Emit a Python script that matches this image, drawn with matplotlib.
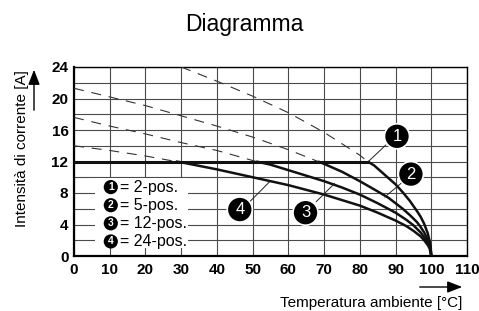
import matplotlib
matplotlib.use('Agg')
import matplotlib.pyplot as plt
from matplotlib.patches import Rectangle, FancyArrowPatch

plt.rcParams['font.family'] = ['Liberation Sans', 'DejaVu Sans']

# curve 1 (2-pos.)
t1_dash = [30, 40, 50, 60, 70, 80, 82.2]
i1_dash = [24.0, 22.2, 20.3, 18.2, 15.7, 12.8, 12.0]
t1 = [82.2, 84, 86, 88, 90, 92, 94, 96, 97, 98, 99, 99.5, 99.8, 100]
i1 = [12.0, 11.5, 10.7, 9.9, 9.1, 8.1, 7.0, 5.7, 5.0, 4.1, 2.9, 2.0, 1.3, 0.0]

# curve 2 (5-pos.)
t2_dash = [0, 10, 20, 30, 40, 50, 60, 68.3]
i2_dash = [21.3, 20.2, 19.1, 17.8, 16.5, 15.1, 13.5, 12.0]
t2 = [68.3, 70, 75, 80, 85, 88, 90, 92, 94, 96, 97, 98, 99, 99.5, 99.8, 100]
i2 = [12.0, 11.7, 10.7, 9.5, 8.2, 7.4, 6.7, 6.0, 5.2, 4.3, 3.7, 3.0, 2.1, 1.5, 1.0, 0.0]

# curve 3 (12-pos.)
t3_dash = [0, 10, 20, 30, 40, 51]
i3_dash = [17.6, 16.5, 15.5, 14.4, 13.4, 12.0]
t3 = [51, 55, 60, 65, 70, 75, 80, 85, 90, 93, 95, 97, 98, 99, 99.5, 99.8, 100]
i3 = [12.0, 11.6, 10.9, 10.2, 9.5, 8.7, 7.8, 6.7, 5.5, 4.6, 3.9, 3.0, 2.4, 1.7, 1.2, 0.8, 0.0]

# curve 4 (24-pos.)
t4_dash = [0, 10, 20, 28.5]
i4_dash = [14.0, 13.4, 12.7, 12.0]
t4 = [28.5, 30, 40, 50, 60, 70, 80, 85, 90, 93, 95, 97, 98, 99, 99.5, 100]
i4 = [12.0, 11.9, 11.0, 10.0, 9.0, 7.8, 6.4, 5.5, 4.5, 3.8, 3.2, 2.5, 2.0, 1.4, 1.0, 0.0]

# common limit
t_lim = [0, 82.2]
i_lim = [12, 12]

labels = ['2-pos.', '5-pos.', '12-pos.', '24-pos.']
numbers = ['1', '2', '3', '4']
# callout circle positions and the leader line ends
call_pos = [(90.4, 15.2), (94.3, 10.4), (64.8, 5.5), (46.4, 5.9)]
call_start = [(87.3, 14.1), (92.0, 9.4), (67.8, 6.9), (49.2, 6.9)]
call_end = [(82.4, 12.0), (87.0, 7.5), (72.9, 9.2), (54.7, 9.4)]

fig = plt.figure(figsize=(4.79, 3.11), dpi=100)
ax = fig.add_axes([74 / 479, 55 / 311, 393 / 479, 189 / 311])

ax.set_xlim(0, 110)
ax.set_ylim(0, 24)
ax.set_xticks(range(0, 111, 10))
ax.set_yticks(range(0, 25, 4))
ax.set_yticks(range(0, 25, 2), minor=True)
ax.grid(True, which='both', color='#4a4a4a', lw=0.8)
ax.set_axisbelow(True)
ax.tick_params(which='both', length=0)
ax.tick_params(axis='x', pad=5)
ax.tick_params(axis='y', pad=4)
for lab in ax.get_xticklabels() + ax.get_yticklabels():
    lab.set_fontweight('bold')
    lab.set_fontsize(11)
for side in ['left', 'bottom']:
    ax.spines[side].set_linewidth(1.6)
for side in ['top', 'right']:
    ax.spines[side].set_linewidth(1.0)

dash = dict(color='#333333', lw=0.8, dashes=(9, 7))
solid = dict(color='#111111', lw=1.8, solid_capstyle='butt')
for td, idd, ts, iss in [(t1_dash, i1_dash, t1, i1), (t2_dash, i2_dash, t2, i2),
                         (t3_dash, i3_dash, t3, i3), (t4_dash, i4_dash, t4, i4)]:
    ax.plot(td, idd, **dash, zorder=3)
    ax.plot(ts, iss, **solid, zorder=4)
ax.plot(t_lim, i_lim, color='#111111', lw=2.2, zorder=4)

# legend block
ax.add_patch(Rectangle((5.8, 1.0), 26.0, 8.9, facecolor='white', edgecolor='none', zorder=2))
for k, (num, lab) in enumerate(zip(numbers, labels)):
    y = 8.75 - k * 2.3
    ax.text(10.3, y, num, ha='center', va='center', color='white', fontsize=7.5, fontweight='bold',
            bbox=dict(boxstyle='circle,pad=0.2', fc='black', ec='none'), zorder=5)
    ax.text(13.0, y, '= ' + lab, ha='left', va='center', fontsize=11.5, zorder=5)

# numbered callouts
for num, p, s, e in zip(numbers, call_pos, call_start, call_end):
    ax.plot([s[0], e[0]], [s[1], e[1]], color='#222222', lw=0.7, zorder=5)
    ax.text(p[0], p[1], num, ha='center', va='center', color='white', fontsize=12,
            bbox=dict(boxstyle='circle,pad=0.3', fc='black', ec='white', lw=1.2), zorder=6)

fig.text(244 / 479, 287 / 311, 'Diagramma', ha='center', va='center', fontsize=16.5)
fig.text(22 / 479, 162 / 311, 'Intensità di corrente [A]', rotation=90, ha='center', va='center', fontsize=11)
fig.text(462 / 479, 8 / 311, 'Temperatura ambiente [°C]', ha='right', va='center', fontsize=11)

arr = dict(arrowstyle='-|>,head_length=0.9,head_width=0.35', mutation_scale=10,
           color='black', lw=1.0, transform=fig.transFigure)
fig.add_artist(FancyArrowPatch((34 / 479, 198 / 311), (34 / 479, 244 / 311), **arr))
fig.add_artist(FancyArrowPatch((417 / 479, 24 / 311), (465 / 479, 24 / 311), **arr))

plt.savefig('out.png', dpi=100)
